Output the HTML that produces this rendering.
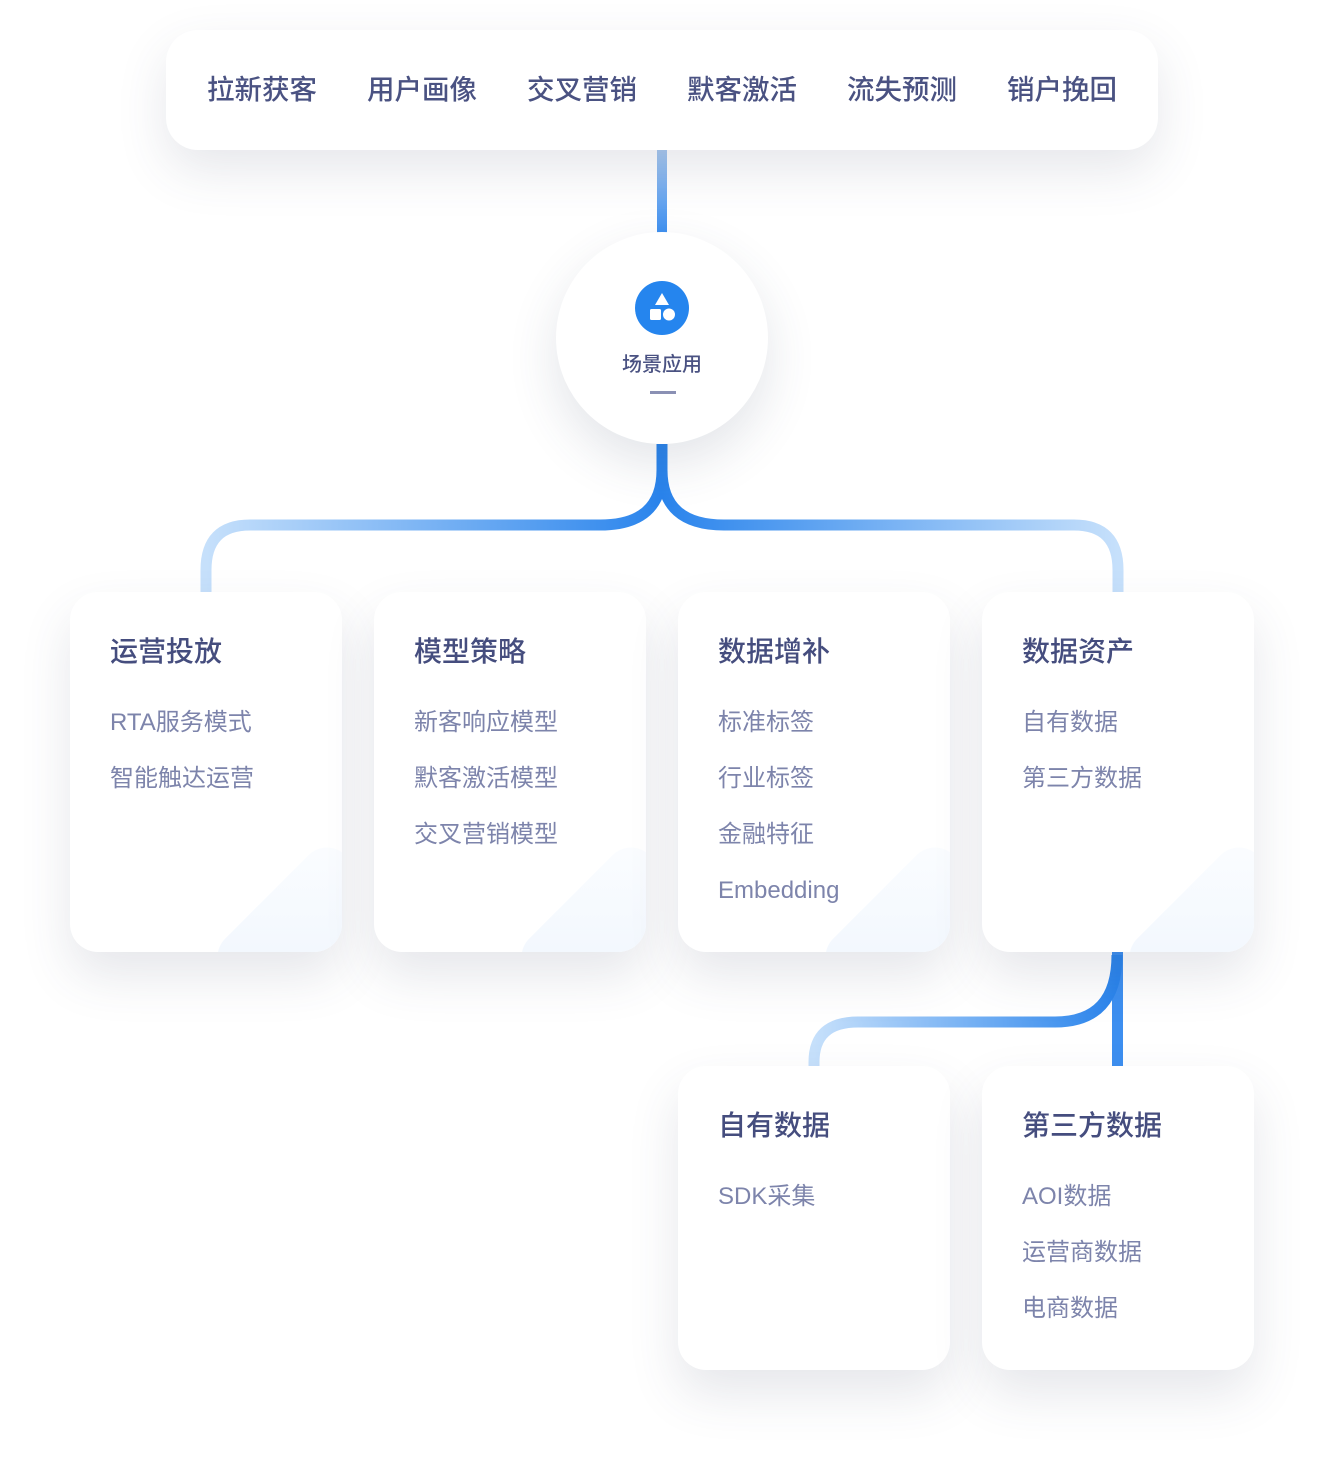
<!DOCTYPE html>
<html><head><meta charset="utf-8"><style>
body{margin:0;width:1324px;height:1480px;background:#fff;position:relative;font-family:"Liberation Sans","Noto Sans CJK SC",sans-serif;overflow:hidden}
.top{position:absolute;left:166px;top:30px;width:992px;height:120px;border-radius:32px;background:#fff;box-shadow:0 20px 50px rgba(60,70,100,.13)}
.top span{position:absolute;top:42px;font-size:27.5px;color:#4a5282;width:160px;text-align:center;line-height:36px;font-weight:500}
.card{position:absolute;width:272px;background:#fff;border-radius:28px;box-shadow:0 24px 50px rgba(60,70,100,.13);overflow:hidden}
.card h3{position:absolute;left:40px;top:40px;margin:0;font-size:28px;font-weight:500;color:#454d7e;line-height:40px;white-space:nowrap}
.card p{position:absolute;left:40px;margin:0;font-size:24px;color:#7d84ab;line-height:30px;white-space:nowrap}
.card .d{position:absolute;right:-70px;bottom:-90px;width:170px;height:170px;border-radius:26px;transform:rotate(45deg);background:linear-gradient(135deg,#fbfdff,#eaf2fd)}
.circ{position:absolute;left:556px;top:232px;width:212px;height:212px;border-radius:50%;background:#fff;box-shadow:0 20px 50px rgba(60,70,100,.14)}
svg{position:absolute;left:0;top:0}
</style></head><body>
<svg width="1324" height="1480">
<defs>
<linearGradient id="gv" x1="0" y1="0" x2="0" y2="1"><stop offset="0" stop-color="#a9c9ef"/><stop offset="1" stop-color="#3d8ff0"/></linearGradient>
<linearGradient id="gl" x1="0" y1="0" x2="1" y2="0"><stop offset="0" stop-color="#c6e0fb"/><stop offset="1" stop-color="#2a84ec"/></linearGradient>
<linearGradient id="gr" x1="0" y1="0" x2="1" y2="0"><stop offset="0" stop-color="#2a84ec"/><stop offset="1" stop-color="#c6e0fb"/></linearGradient>
<linearGradient id="gb" x1="0" y1="0" x2="1" y2="0"><stop offset="0" stop-color="#c6e0fb"/><stop offset="1" stop-color="#2a84ec"/></linearGradient>
</defs>
<rect x="657" y="150" width="10" height="84" fill="url(#gv)"/>
<path d="M662 444 V470 Q662 525 600 525 H250 Q206 525 206 570 V600" fill="none" stroke="url(#gl)" stroke-width="11"/>
<path d="M662 444 V470 Q662 525 724 525 H1074 Q1118 525 1118 570 V600" fill="none" stroke="url(#gr)" stroke-width="11"/>
<rect x="1112" y="950" width="11" height="120" fill="#3d8ff0"/>
<path d="M1117 955 Q1117 1022 1055 1022 H858 Q814 1022 814 1062 V1070" fill="none" stroke="url(#gb)" stroke-width="11"/>
</svg>
<div class="top">
<span style="left:16px">拉新获客</span><span style="left:176px">用户画像</span><span style="left:336px">交叉营销</span><span style="left:496px">默客激活</span><span style="left:656px">流失预测</span><span style="left:816px">销户挽回</span>
</div>
<div class="circ">
<svg width="212" height="212"><circle cx="106" cy="76" r="27" fill="#2585ee"/><polygon points="106,61 113,73 99,73" fill="#fff"/><rect x="94" y="77" width="11" height="11" rx="1.5" fill="#fff"/><circle cx="113" cy="82.5" r="6" fill="#fff"/><rect x="94" y="159" width="26" height="3" fill="#8a90b4"/></svg>
<div style="position:absolute;top:119px;width:212px;text-align:center;font-size:20px;color:#4a5282;line-height:28px;font-weight:500">场景应用</div>
</div>
<div class="card" style="left:70px;top:592px;height:360px"><div class="d"></div><h3>运营投放</h3><p style="top:116px">RTA服务模式</p><p style="top:172px">智能触达运营</p></div>
<div class="card" style="left:374px;top:592px;height:360px"><div class="d"></div><h3>模型策略</h3><p style="top:116px">新客响应模型</p><p style="top:172px">默客激活模型</p><p style="top:228px">交叉营销模型</p></div>
<div class="card" style="left:678px;top:592px;height:360px"><div class="d"></div><h3>数据增补</h3><p style="top:116px">标准标签</p><p style="top:172px">行业标签</p><p style="top:228px">金融特征</p><p style="top:284px">Embedding</p></div>
<div class="card" style="left:982px;top:592px;height:360px"><div class="d"></div><h3>数据资产</h3><p style="top:116px">自有数据</p><p style="top:172px">第三方数据</p></div>
<div class="card" style="left:678px;top:1066px;height:304px"><h3>自有数据</h3><p style="top:116px">SDK采集</p></div>
<div class="card" style="left:982px;top:1066px;height:304px"><h3>第三方数据</h3><p style="top:116px">AOI数据</p><p style="top:172px">运营商数据</p><p style="top:228px">电商数据</p></div>
</body></html>
